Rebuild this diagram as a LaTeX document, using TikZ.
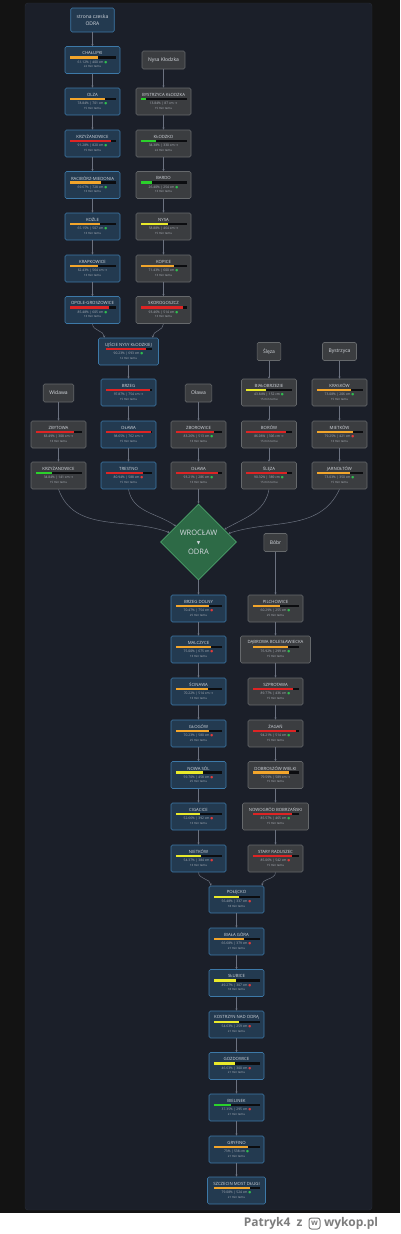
\documentclass[tikz,border=0pt]{standalone}
\usepackage{fontspec}
\setmainfont{Open Sans}
\newfontfamily\symf{DejaVu Sans}
\usetikzlibrary{shapes.geometric,arrows.meta,calc}
\definecolor{PageBg}{HTML}{131313}
\definecolor{PanelBg}{HTML}{1B1F29}
\definecolor{PanelLine}{HTML}{282D38}
\definecolor{BlueFill}{HTML}{233A50}
\definecolor{BlueLine}{HTML}{3D79A8}
\definecolor{GreyFill}{HTML}{3B3D40}
\definecolor{GreyLine}{HTML}{66696C}
\definecolor{LinkLine}{HTML}{6C7280}
\definecolor{TxtMain}{HTML}{D5D9DF}
\definecolor{TxtSub}{HTML}{AEB3BB}
\definecolor{BarTrack}{HTML}{0C0D10}
\definecolor{LvOrange}{HTML}{F2A52B}
\definecolor{LvRed}{HTML}{DD2424}
\definecolor{LvGreen}{HTML}{2BD12B}
\definecolor{LvYellow}{HTML}{E9E92A}
\definecolor{DotGreen}{HTML}{2FBF4F}
\definecolor{DotRed}{HTML}{E23B3B}
\definecolor{WroFill}{HTML}{2D6A46}
\definecolor{WroLine}{HTML}{4CA36B}
\definecolor{FootTxt}{HTML}{7D7D7D}
\newcommand{\okdot}{\textcolor{DotGreen}{\symf ●}}
\newcommand{\badot}{\textcolor{DotRed}{\symf ●}}
\newcommand{\trnd}{{\symf →}}
% station box: id, x, y, box style, name, fill fraction, bar colour, reading, time
\newcommand{\gauge}[9]{%
  \node[#4] (#1) at (#2,#3) {};
  \node[gaugename] (#1n) at ([yshift=-7]#1.north) {#5};
  \coordinate (#1b0) at ([xshift=-23,yshift=-9.8]#1.north);
  \coordinate (#1b1) at ([xshift=23,yshift=-12.4]#1.north);
  \coordinate (#1bf) at ($(#1b0)!#6!(#1b1)$);
  \fill[BarTrack] (#1b0) rectangle (#1b1);
  \fill[#7] (#1b0) rectangle (#1bf |- #1b1);
  \node[gaugeval] (#1v) at ([yshift=-16.2]#1.north) {#8};
  \node[gaugetime] (#1t) at ([yshift=-20.3]#1.north) {#9};
}
\tikzset{
  gaugebox/.style={draw, rounded corners=1.5pt, line width=0.6pt, minimum width=55pt, minimum height=27pt, inner sep=0pt},
  bluebox/.style={gaugebox, fill=BlueFill, draw=BlueLine},
  greybox/.style={gaugebox, fill=GreyFill, draw=GreyLine},
  riverbox/.style={draw=GreyLine, fill=GreyFill, rounded corners=1.5pt, line width=0.6pt, text=TxtMain, font=\fontsize{5}{7}\selectfont, minimum height=18pt, inner xsep=6pt, align=center},
  gaugename/.style={text=TxtMain, font=\fontsize{4.3}{5}\selectfont, inner sep=0pt},
  gaugeval/.style={text=TxtSub, font=\fontsize{3.3}{4}\selectfont, inner sep=0pt},
  gaugetime/.style={text=TxtSub, font=\fontsize{2.9}{3.5}\selectfont, inner sep=0pt},
  link/.style={draw=LinkLine, line width=0.5pt, -{Stealth[length=2.2pt,width=2.2pt]}},
}
\begin{document}
\begin{tikzpicture}[x=1pt,y=-1pt]
\path[use as bounding box] (0,0) rectangle (400,1234);
\fill[PageBg] (0,0) rectangle (400,1213);
\fill[white] (0,1213) rectangle (400,1234);
\filldraw[fill=PanelBg, draw=PanelLine, rounded corners=3pt] (25,3) rectangle (372,1210);
% sources and tributaries
\node[riverbox, fill=BlueFill, draw=BlueLine, minimum height=24pt] (czech) at (92.5,20) {strona czeska\\ODRA};
\node[riverbox] (nysalbl) at (163.5,60) {Nysa Kłodzka};
\node[riverbox] (widawalbl) at (58.5,393) {Widawa};
\node[riverbox] (olawalbl) at (198.5,393) {Oława};
\node[riverbox] (slezalbl) at (269,351.5) {Ślęza};
\node[riverbox] (bystrzycalbl) at (339.5,351.5) {Bystrzyca};
\node[riverbox] (bobrlbl) at (275.5,542.5) {Bóbr};
% upper Odra
\gauge{chalupki}{92.5}{60}{bluebox}{CHAŁUPKI}{0.61}{LvOrange}{61.12\% | 400 cm \okdot}{22 min temu}
\gauge{olza}{92.5}{101.5}{bluebox}{OLZA}{0.78}{LvOrange}{78.84\% | 701 cm \okdot}{15 min temu}
\gauge{krzyzanowice}{92.5}{143.5}{bluebox}{KRZYŻANOWICE}{0.91}{LvRed}{91.28\% | 820 cm \okdot}{15 min temu}
\gauge{raciborz}{92.5}{185}{bluebox}{RACIBÓRZ-MIEDONIA}{0.69}{LvOrange}{69.67\% | 728 cm \okdot}{13 min temu}
\gauge{kozle}{92.5}{226.5}{bluebox}{KOŹLE}{0.66}{LvOrange}{65.15\% | 507 cm \okdot}{13 min temu}
\gauge{krapkowice}{92.5}{268.5}{bluebox}{KRAPKOWICE}{0.63}{LvOrange}{62.43\% | 564 cm \trnd}{13 min temu}
\gauge{opole}{92.5}{310}{bluebox}{OPOLE-GROSZOWICE}{0.85}{LvRed}{85.48\% | 605 cm \okdot}{13 min temu}
% Nysa Klodzka
\gauge{bystrzycak}{163.5}{101.5}{greybox}{BYSTRZYCA KŁODZKA}{0.13}{LvGreen}{13.84\% | 87 cm \trnd}{15 min temu}
\gauge{klodzko}{163.5}{143.5}{greybox}{KŁODZKO}{0.34}{LvGreen}{34.38\% | 330 cm \trnd}{22 min temu}
\gauge{bardo}{163.5}{185}{greybox}{BARDO}{0.26}{LvGreen}{26.40\% | 254 cm \okdot}{13 min temu}
\gauge{nysa}{163.5}{226.5}{greybox}{NYSA}{0.59}{LvYellow}{58.88\% | 464 cm \trnd}{15 min temu}
\gauge{kopice}{163.5}{268.5}{greybox}{KOPICE}{0.73}{LvOrange}{71.43\% | 600 cm \okdot}{13 min temu}
\gauge{skorogoszcz}{163.5}{310}{greybox}{SKOROGOSZCZ}{0.93}{LvRed}{93.46\% | 514 cm \okdot}{13 min temu}
\gauge{ujscie}{128.5}{351.5}{bluebox,minimum width=60pt}{UJŚCIE NYSY KŁODZKIEJ}{0.88}{LvRed}{90.23\% | 693 cm \okdot}{12 min temu}
% Odra to Wroclaw and tributaries
\gauge{brzeg}{128.5}{392.5}{bluebox}{BRZEG}{0.97}{LvRed}{97.87\% | 754 cm \trnd}{15 min temu}
\gauge{olawa}{128.5}{434.5}{bluebox}{OŁAWA}{0.98}{LvRed}{98.65\% | 762 cm \trnd}{15 min temu}
\gauge{trestno}{128.5}{475.5}{bluebox}{TRESTNO}{0.82}{LvRed}{80.94\% | 588 cm \badot}{15 min temu}
\gauge{zbytowa}{58.5}{434.5}{greybox}{ZBYTOWA}{0.84}{LvRed}{83.49\% | 308 cm \trnd}{13 min temu}
\gauge{krzyzanowicew}{58.5}{475.5}{greybox}{KRZYŻANOWICE}{0.35}{LvGreen}{34.84\% | 141 cm \trnd}{15 min temu}
\gauge{zborowice}{198.5}{434.5}{greybox}{ZBOROWICE}{0.84}{LvRed}{83.26\% | 513 cm \okdot}{13 min temu}
\gauge{olawao}{198.5}{475.5}{greybox}{OŁAWA}{0.93}{LvRed}{93.21\% | 286 cm \okdot}{13 min temu}
\gauge{bialobrzezie}{269}{392.5}{greybox}{BIAŁOBRZEZIE}{0.43}{LvYellow}{43.84\% | 152 cm \okdot}{15 min temu}
\gauge{borow}{269}{434.5}{greybox}{BORÓW}{0.86}{LvRed}{86.06\% | 306 cm \trnd}{15 min temu}
\gauge{sleza}{269}{475.5}{greybox}{ŚLĘZA}{0.9}{LvRed}{90.32\% | 389 cm \okdot}{15 min temu}
\gauge{kraskow}{339.5}{392.5}{greybox}{KRASKÓW}{0.75}{LvOrange}{73.08\% | 206 cm \okdot}{15 min temu}
\gauge{mietkow}{339.5}{434.5}{greybox}{MIETKÓW}{0.79}{LvOrange}{79.25\% | 421 cm \badot}{13 min temu}
\gauge{jarnoltow}{339.5}{475.5}{greybox}{JARNOŁTÓW}{0.73}{LvOrange}{73.03\% | 350 cm \okdot}{15 min temu}
% Wroclaw
\node[diamond, aspect=1, minimum width=76pt, minimum height=76pt, inner sep=0pt, fill=WroFill, draw=WroLine, line width=0.7pt] (wroclaw) at (198.5,542) {};
\node[text=TxtMain, font=\fontsize{7.5}{9.6}\selectfont, align=center] (wroclawtxt) at (198.5,542) {WROCŁAW\\{\symf\fontsize{4.5}{9.6}\selectfont ▼}\\ODRA};
% middle Odra
\gauge{brzegdolny}{198.5}{608.5}{bluebox}{BRZEG DOLNY}{0.72}{LvOrange}{70.47\% | 754 cm \badot}{25 min temu}
\gauge{malczyce}{198.5}{649.5}{bluebox}{MALCZYCE}{0.78}{LvOrange}{75.00\% | 675 cm \badot}{13 min temu}
\gauge{scinawa}{198.5}{691.5}{bluebox}{ŚCINAWA}{0.71}{LvOrange}{70.22\% | 514 cm \trnd}{13 min temu}
\gauge{glogow}{198.5}{733.5}{bluebox}{GŁOGÓW}{0.72}{LvOrange}{70.23\% | 580 cm \badot}{25 min temu}
\gauge{nowasol}{198.5}{775}{bluebox}{NOWA SÓL}{0.6}{LvYellow}{59.70\% | 458 cm \badot}{25 min temu}
\gauge{cigacice}{198.5}{816.5}{bluebox}{CIGACICE}{0.54}{LvYellow}{52.66\% | 392 cm \badot}{13 min temu}
\gauge{nietkow}{198.5}{858.5}{bluebox}{NIETKÓW}{0.56}{LvYellow}{54.37\% | 384 cm \badot}{13 min temu}
% Bobr
\gauge{pilchowice}{275.5}{608.5}{greybox}{PILCHOWICE}{0.6}{LvOrange}{60.29\% | 255 cm \okdot}{25 min temu}
\gauge{dabrowa}{275.5}{649.5}{greybox,minimum width=70pt}{DĄBROWA BOLESŁAWIECKA}{0.78}{LvOrange}{76.92\% | 299 cm \okdot}{15 min temu}
\gauge{szprotawa}{275.5}{691.5}{greybox}{SZPROTAWA}{0.89}{LvRed}{89.77\% | 436 cm \okdot}{15 min temu}
\gauge{zagan}{275.5}{733.5}{greybox}{ŻAGAŃ}{0.94}{LvRed}{94.21\% | 514 cm \okdot}{15 min temu}
\gauge{dobroszow}{275.5}{775}{greybox}{DOBROSZÓW WIELKI}{0.8}{LvOrange}{79.59\% | 589 cm \trnd}{15 min temu}
\gauge{nowogrod}{275.5}{816.5}{greybox,minimum width=66pt}{NOWOGRÓD BOBRZAŃSKI}{0.86}{LvRed}{85.57\% | 465 cm \okdot}{15 min temu}
\gauge{raduszec}{275.5}{858.5}{greybox}{STARY RADUSZEC}{0.86}{LvRed}{85.06\% | 542 cm \badot}{15 min temu}
% lower Odra
\gauge{polecko}{236.5}{899.5}{bluebox}{POŁĘCKO}{0.56}{LvYellow}{56.48\% | 337 cm \badot}{18 min temu}
\gauge{bialagora}{236.5}{941.5}{bluebox}{BIAŁA GÓRA}{0.67}{LvOrange}{66.68\% | 379 cm \badot}{21 min temu}
\gauge{slubice}{236.5}{983}{bluebox}{SŁUBICE}{0.49}{LvYellow}{49.27\% | 307 cm \badot}{18 min temu}
\gauge{kostrzyn}{236.5}{1024.5}{bluebox}{KOSTRZYN NAD ODRĄ}{0.55}{LvYellow}{54.63\% | 259 cm \badot}{21 min temu}
\gauge{gozdowice}{236.5}{1066}{bluebox}{GOZDOWICE}{0.47}{LvYellow}{46.63\% | 300 cm \badot}{21 min temu}
\gauge{bielinek}{236.5}{1107.5}{bluebox}{BIELINEK}{0.37}{LvGreen}{37.35\% | 295 cm \badot}{21 min temu}
\gauge{gryfino}{236.5}{1149.5}{bluebox}{GRYFINO}{0.74}{LvOrange}{73\% | 538 cm \okdot}{21 min temu}
\gauge{szczecin}{236.5}{1190.5}{bluebox,minimum width=58pt}{SZCZECIN MOST DŁUGI}{0.79}{LvOrange}{79.08\% | 524 cm \okdot}{21 min temu}
% connectors
\draw[link] (czech) -- (chalupki);
\draw[link] (chalupki) -- (olza);
\draw[link] (olza) -- (krzyzanowice);
\draw[link] (krzyzanowice) -- (raciborz);
\draw[link] (raciborz) -- (kozle);
\draw[link] (kozle) -- (krapkowice);
\draw[link] (krapkowice) -- (opole);
\draw[link] (opole.south) to[out=270,in=90] ([xshift=6]ujscie.north west);
\draw[link] (nysalbl) -- (bystrzycak);
\draw[link] (bystrzycak) -- (klodzko);
\draw[link] (klodzko) -- (bardo);
\draw[link] (bardo) -- (nysa);
\draw[link] (nysa) -- (kopice);
\draw[link] (kopice) -- (skorogoszcz);
\draw[link] (skorogoszcz.south) to[out=270,in=90] ([xshift=-6]ujscie.north east);
\draw[link] (ujscie) -- (brzeg);
\draw[link] (brzeg) -- (olawa);
\draw[link] (olawa) -- (trestno);
\draw[link] (widawalbl) -- (zbytowa);
\draw[link] (zbytowa) -- (krzyzanowicew);
\draw[link] (olawalbl) -- (zborowice);
\draw[link] (zborowice) -- (olawao);
\draw[link] (slezalbl) -- (bialobrzezie);
\draw[link] (bialobrzezie) -- (borow);
\draw[link] (borow) -- (sleza);
\draw[link] (bystrzycalbl) -- (kraskow);
\draw[link] (kraskow) -- (mietkow);
\draw[link] (mietkow) -- (jarnoltow);
\draw[link] (krzyzanowicew.south) to[out=290,in=160] (wroclaw.162);
\draw[link] (trestno.south) to[out=280,in=145] (wroclaw.145);
\draw[link] (olawao) -- (wroclaw);
\draw[link] (sleza.south) to[out=260,in=30] (wroclaw.26);
\draw[link] (jarnoltow.south) to[out=245,in=18] (wroclaw.16);
\draw[link] (wroclaw) -- (brzegdolny);
\draw[link] (brzegdolny) -- (malczyce);
\draw[link] (malczyce) -- (scinawa);
\draw[link] (scinawa) -- (glogow);
\draw[link] (glogow) -- (nowasol);
\draw[link] (nowasol) -- (cigacice);
\draw[link] (cigacice) -- (nietkow);
\draw[link] (nietkow.south) to[out=270,in=90] ([xshift=2]polecko.north west);
\draw[link] (bobrlbl) -- (pilchowice);
\draw[link] (pilchowice) -- (dabrowa);
\draw[link] (dabrowa) -- (szprotawa);
\draw[link] (szprotawa) -- (zagan);
\draw[link] (zagan) -- (dobroszow);
\draw[link] (dobroszow) -- (nowogrod);
\draw[link] (nowogrod) -- (raduszec);
\draw[link] (raduszec.south) to[out=270,in=90] ([xshift=-2]polecko.north east);
\draw[link] (polecko) -- (bialagora);
\draw[link] (bialagora) -- (slubice);
\draw[link] (slubice) -- (kostrzyn);
\draw[link] (kostrzyn) -- (gozdowice);
\draw[link] (gozdowice) -- (bielinek);
\draw[link] (bielinek) -- (gryfino);
\draw[link] (gryfino) -- (szczecin);
% footer
\node[anchor=east, text=FootTxt, font=\fontsize{12}{14}\selectfont\bfseries] (credit) at (306,1223.5) {Patryk4\ \ z};
\node[draw=FootTxt, line width=1pt, rounded corners=2.5pt, minimum size=11pt, inner sep=0pt, text=FootTxt, font=\fontsize{8}{9}\selectfont\bfseries] (wlogo) at (314.5,1223.5) {w};
\node[anchor=west, text=FootTxt, font=\fontsize{12}{14}\selectfont\bfseries] (wykop) at (320.5,1223.5) {wykop.pl};
\end{tikzpicture}
\end{document}
